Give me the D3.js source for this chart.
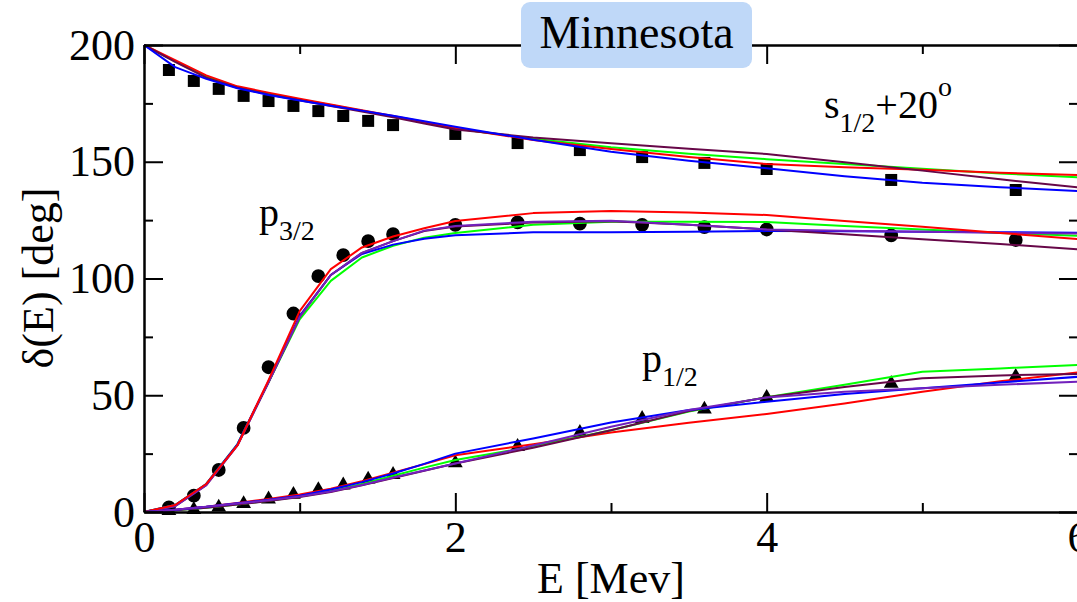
<!DOCTYPE html>
<html><head><meta charset="utf-8">
<script src="https://cdn.jsdelivr.net/npm/d3@7"></script>
<style>
html,body{margin:0;padding:0;background:#fff;}
svg{display:block;}
text{font-family:"Liberation Serif","Times New Roman",serif;fill:#000;}
</style></head>
<body>
<svg id="chart" width="1077" height="602"></svg>
<script>
// ---------- DATA ----------
const xTicksMajor = [0, 2, 4, 6];
const xTicksMinor = [1, 3, 5];
const yTicksMajor = [0, 50, 100, 150, 200];
const yTicksMinor = [25, 75, 125, 175];

// experimental energies (MeV)
const expEnergy = [0.16,0.32,0.48,0.64,0.8,0.96,1.12,1.28,1.44,1.6,2.0,2.4,2.8,3.2,3.6,4.0,4.8,5.6];
// experimental phase shifts
const s12Exp = [189.3,184.6,181.2,178.2,176.0,173.9,171.7,169.6,167.5,165.7,161.9,158.0,155.0,152.0,149.5,146.9,142.2,137.9];
const p32Exp = [2,7,18,36,62,85,101,110,116,119,123,124,123.5,123,122,121,118.5,116.5];
const p12Exp = [0.5,1,2,3.5,5.5,7.5,9.5,11.5,14,16,21,28,34,40,44,49,55,58];

// calculated curves energy grid
const curveEnergy = [0,0.2,0.4,0.6,0.8,1.0,1.2,1.4,1.6,1.8,2.0,2.5,3.0,3.5,4.0,4.5,5.0,5.5,6.0];

// s1/2 (+20 deg) curves
const s12Blue   = [200,190.5,185.5,181.5,178.6,176.2,174.0,171.9,169.7,167.3,165.0,159.4,154.3,150.4,147.2,143.8,141.0,139.1,137.5];
const s12Red    = [200,193.5,187.0,182.3,179.6,177.0,174.5,172.1,169.6,167.0,164.5,159.3,155.5,152.0,149.0,147.6,146.6,145.3,144.3];
const s12Green  = [200,193.0,186.5,182.0,179.2,176.7,174.3,171.9,169.4,166.8,164.2,159.8,156.2,153.4,151.1,149.0,147.0,145.0,143.3];
const s12Maroon = [200,192.8,186.0,181.7,178.8,176.3,173.9,171.5,169.0,166.4,163.8,160.4,157.9,155.6,153.3,149.8,146.2,142.5,139.0];

// p3/2 curves
const p32Blue   = [0,3,12,29,56,84,101.5,110.5,114.5,117,118.5,119.8,119.8,120,120.3,120.2,120,119.8,119.6];
const p32Red    = [0,3,12,28.5,56.5,86,104,113.3,118,121.5,124.6,128,128.9,128.3,127.2,124.6,122.2,119.5,116.9];
const p32Green  = [0,3,12,29,55.5,82.5,99,109,114,117.5,119.5,123,124.3,124.3,124.2,122.5,121,119.5,118.3];
const p32Violet = [0,2.5,11.5,28.5,55.5,83.5,101.5,111,116,120.5,122.5,124.3,124.7,123,121,120.5,120,119.6,119.3];
const p32Maroon = [0,2.5,11.5,28.5,55.5,83.5,101.5,111,116,120.3,122.3,124,124.5,123,121,119,116.8,114.8,112.5];

// p1/2 curves
const p12Blue   = [0,1,2.2,3.7,5.2,7,9.6,12.8,16.5,20.6,25,31.5,38.3,43.7,47.2,50.5,53,55.5,57.9];
const p12Red    = [0,1,2.3,3.9,5.6,7.5,10,13.2,16.8,20.5,24.3,29,34,38.2,42,46.5,51.5,56,59.8];
const p12Green  = [0,0.8,1.8,3.2,4.8,6.6,9,12,15.5,19,22.3,28,35,43,49.1,54.5,60.1,61.5,63];
const p12Maroon = [0,0.8,1.8,3.2,4.7,6.4,8.6,11.4,14.6,17.7,20.8,27.5,35,43.2,49.1,53.5,57.3,58.5,59.1];
const p12Violet = [0,1,2.2,3.6,5,6.6,8.8,11.6,14.8,17.8,20.8,28.5,36.5,43.7,49,51.5,53,54.5,55.8];

// ---------- CHART ----------
const svg = d3.select("#chart");
const x = d3.scaleLinear().domain([0, 6]).range([144, 1078]);
const y = d3.scaleLinear().domain([0, 200]).range([512, 45]);
const FONT = 44;

const colors = {blue:"#0000ff", red:"#ff0000", green:"#00ff00", maroon:"#670748", violet:"#7221bc"};

// markers (drawn first, lines on top)
const expSets = [
  {vals:s12Exp, sym:d3.symbolSquare, size:144},
  {vals:p32Exp, sym:d3.symbolCircle, size:150},
  {vals:p12Exp, sym:d3.symbolTriangle, size:95}
];
expSets.forEach(s => {
  svg.append("g").selectAll("path").data(expEnergy.map((e,i)=>[e, s.vals[i]]))
    .join("path")
    .attr("d", d3.symbol().type(s.sym).size(s.size))
    .attr("transform", d => `translate(${x(d[0])},${y(d[1])})`)
    .attr("fill", "#000");
});

const line = d3.line().x((d,i)=>x(curveEnergy[i])).y(d=>y(d)).curve(d3.curveLinear);
const curves = [
  [s12Green, colors.green],[s12Red, colors.red],[s12Maroon, colors.maroon],[s12Blue, colors.blue],
  [p32Green, colors.green],[p32Blue, colors.blue],[p32Maroon, colors.maroon],[p32Violet, colors.violet],[p32Red, colors.red],
  [p12Red, colors.red],[p12Green, colors.green],[p12Maroon, colors.maroon],[p12Blue, colors.blue],[p12Violet, colors.violet]
];
const cg = svg.append("g");
curves.forEach(([vals, col]) => {
  cg.append("path").attr("d", line(vals)).attr("fill","none")
    .attr("stroke", col).attr("stroke-width", 2).attr("stroke-linejoin","round");
});

// axes
function styleAxis(g){
  g.select(".domain").attr("stroke","#000").attr("stroke-width",2);
  g.selectAll(".tick line").attr("stroke","#000").attr("stroke-width",2);
  g.selectAll("text").style("font-family",'"Liberation Serif","Times New Roman",serif').style("font-size",FONT+"px").attr("fill","#000");
}
// bottom
svg.append("g").attr("transform","translate(0,512)")
  .call(d3.axisBottom(x).tickValues(xTicksMajor).tickSizeInner(-19).tickSizeOuter(0).tickPadding(9).tickFormat(d3.format("d")))
  .call(styleAxis);
svg.append("g").attr("transform","translate(0,512)")
  .call(d3.axisBottom(x).tickValues(xTicksMinor).tickSizeInner(-9).tickSizeOuter(0).tickFormat(""))
  .call(styleAxis);
// top
svg.append("g").attr("transform","translate(0,45)")
  .call(d3.axisTop(x).tickValues(xTicksMajor).tickSizeInner(-19).tickSizeOuter(0).tickFormat(""))
  .call(styleAxis);
svg.append("g").attr("transform","translate(0,45)")
  .call(d3.axisTop(x).tickValues(xTicksMinor).tickSizeInner(-9).tickSizeOuter(0).tickFormat(""))
  .call(styleAxis);
// left
svg.append("g").attr("transform","translate(144,0)")
  .call(d3.axisLeft(y).tickValues(yTicksMajor).tickSizeInner(-19).tickSizeOuter(0).tickPadding(9).tickFormat(d3.format("d")))
  .call(styleAxis);
svg.append("g").attr("transform","translate(144,0)")
  .call(d3.axisLeft(y).tickValues(yTicksMinor).tickSizeInner(-9).tickSizeOuter(0).tickFormat(""))
  .call(styleAxis);
// right
svg.append("g").attr("transform","translate(1078,0)")
  .call(d3.axisRight(y).tickValues(yTicksMajor).tickSizeInner(-19).tickSizeOuter(0).tickFormat(""))
  .call(styleAxis);
svg.append("g").attr("transform","translate(1078,0)")
  .call(d3.axisRight(y).tickValues(yTicksMinor).tickSizeInner(-9).tickSizeOuter(0).tickFormat(""))
  .call(styleAxis);

// axis titles
svg.append("text").attr("x", 611).attr("y", 593).attr("text-anchor","middle")
  .style("font-size", FONT+"px").text("E [Mev]");
svg.append("text").attr("transform","translate(53,278) rotate(-90)").attr("text-anchor","middle")
  .style("font-size", FONT+"px").text("δ(E) [deg]");

// title box
svg.append("rect").attr("x",521).attr("y",2).attr("width",231).attr("height",66).attr("rx",9)
  .attr("fill","#bfd8f8");
svg.append("text").attr("x",636.5).attr("y",48).attr("text-anchor","middle")
  .style("font-size","46px").text("Minnesota");

// curve labels
function label(xp, yp, main, sub, rest, sup){
  const t = svg.append("text").attr("x", xp).attr("y", yp).style("font-size","40px");
  t.append("tspan").text(main);
  t.append("tspan").attr("dy", 14).style("font-size","28px").text(sub);
  if (rest) t.append("tspan").attr("dy", -14).text(rest);
  if (sup) t.append("tspan").attr("dy", -22).style("font-size","28px").text(sup);
}
label(824, 118, "s", "1/2", "+20", "o");
label(259, 226, "p", "3/2");
label(642, 372, "p", "1/2");
</script>
</body></html>
